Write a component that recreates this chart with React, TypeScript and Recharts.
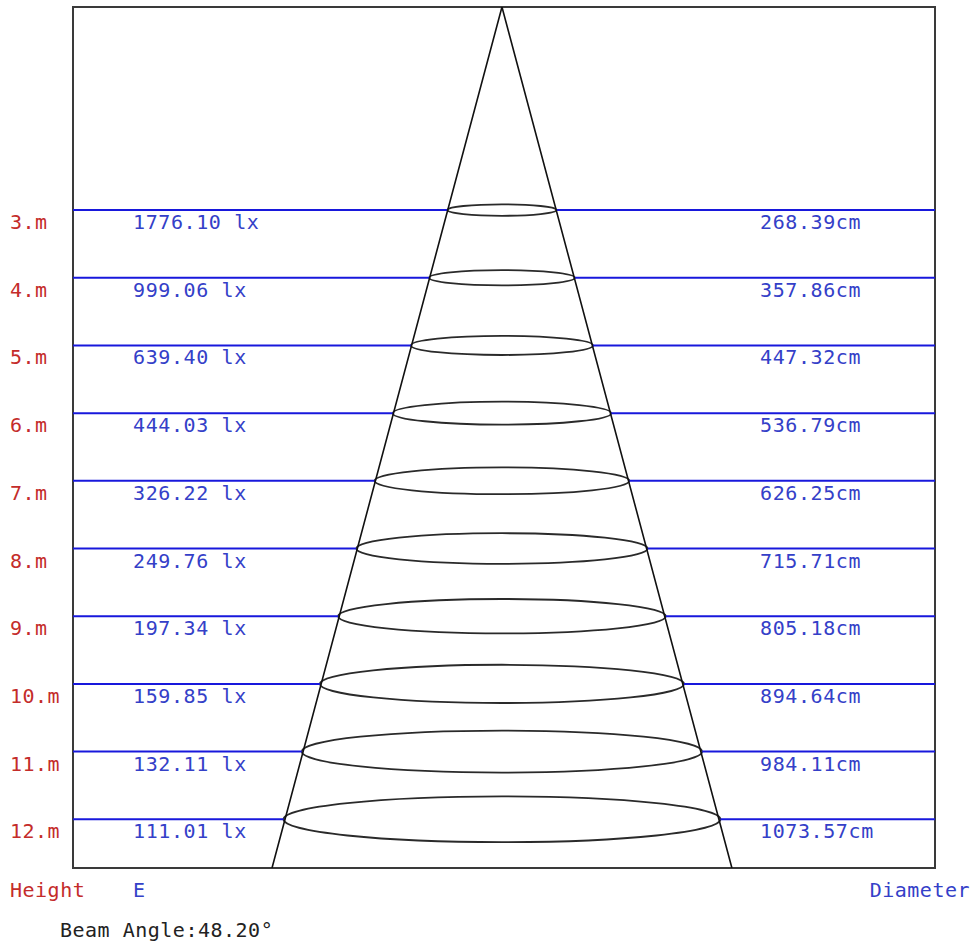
import React from 'react';
import { ComposedChart, XAxis, YAxis, Scatter, ReferenceLine, ReferenceArea } from 'recharts';

// mounting heights (m) and the values printed on each row
const heights = [3, 4, 5, 6, 7, 8, 9, 10, 11, 12];
const illuminance = [1776.1, 999.06, 639.4, 444.03, 326.22, 249.76, 197.34, 159.85, 132.11, 111.01];
const diameters = [268.39, 357.86, 447.32, 536.79, 626.25, 715.71, 805.18, 894.64, 984.11, 1073.57];

// cone outline: bottom-left, apex, bottom-right
const coneX = [-565, 0, 565];
const coneH = [12.72, 0, 12.72];

const beamAngle = 48.2;

const X_DOMAIN = [-1054, 1064];
const Y_DOMAIN = [0, 12.72];

const RED = '#c42c2a';
const BLUE = '#3440c8';
const LINE_BLUE = '#1818dc';
const FONT = '"DejaVu Sans Mono", "Liberation Mono", monospace';

const cone = coneX.map((x, i) => ({ x, h: coneH[i] }));

const RowTick = (props: any) => {
  const { y, payload } = props;
  const i = heights.indexOf(payload.value);
  if (i < 0) return null;
  const ty = y + 19;
  return (
    <g fontFamily={FONT} fontSize={20}>
      <text x={10} y={ty} fill={RED} letterSpacing={0.5}>{`${payload.value}.m`}</text>
      <text x={133} y={ty} fill={BLUE} letterSpacing={0.6}>{`${illuminance[i].toFixed(2)} lx`}</text>
      <text x={760} y={ty} fill={BLUE} letterSpacing={0.6}>{`${diameters[i].toFixed(2)}cm`}</text>
    </g>
  );
};

const ellipseShape = (props: any) => {
  const { x, y, width, height } = props;
  const rx = width / 2;
  return (
    <ellipse
      cx={x + rx}
      cy={y + height / 2}
      rx={rx}
      ry={rx * 0.105}
      fill="none"
      stroke="#2a2a2a"
      strokeWidth={1.8}
    />
  );
};

export default function App() {
  return (
    <div style={{ position: 'absolute', left: 0, top: 0, width: 972, height: 945, background: '#fff' }}>
      <ComposedChart width={972} height={945} margin={{ top: 7, right: 37, bottom: 77, left: 0 }}>
        <XAxis type="number" dataKey="x" domain={X_DOMAIN} allowDataOverflow hide />
        <YAxis
          type="number"
          dataKey="h"
          domain={Y_DOMAIN}
          allowDataOverflow
          reversed
          ticks={heights}
          interval={0}
          width={73}
          axisLine={false}
          tickLine={false}
          tick={<RowTick />}
        />
        <ReferenceArea
          x1={X_DOMAIN[0]}
          x2={X_DOMAIN[1]}
          y1={Y_DOMAIN[0]}
          y2={Y_DOMAIN[1]}
          fill="none"
          fillOpacity={0}
          stroke="#3a3a3a"
          strokeWidth={2}
        />
        {heights.map((h, i) => (
          <ReferenceLine
            key={`l${h}`}
            segment={[{ x: X_DOMAIN[0], y: h }, { x: -diameters[i] / 2, y: h }]}
            stroke={LINE_BLUE}
            strokeWidth={2}
          />
        ))}
        {heights.map((h, i) => (
          <ReferenceLine
            key={`r${h}`}
            segment={[{ x: diameters[i] / 2, y: h }, { x: X_DOMAIN[1], y: h }]}
            stroke={LINE_BLUE}
            strokeWidth={2}
          />
        ))}
        {heights.map((h, i) => (
          <ReferenceArea
            key={`e${h}`}
            x1={-diameters[i] / 2}
            x2={diameters[i] / 2}
            y1={h - 0.01}
            y2={h + 0.01}
            shape={ellipseShape}
          />
        ))}
        <Scatter
          data={cone}
          dataKey="h"
          line={{ stroke: '#111', strokeWidth: 1.6 }}
          shape={() => <g />}
          isAnimationActive={false}
        />
      </ComposedChart>
      <svg
        width={972}
        height={945}
        style={{ position: 'absolute', left: 0, top: 0, pointerEvents: 'none' }}
        fontFamily={FONT}
        fontSize={20}
      >
        <text x={10} y={897} fill={RED} letterSpacing={0.5}>Height</text>
        <text x={133} y={897} fill={BLUE}>E</text>
        <text x={970} y={897} fill={BLUE} textAnchor="end" letterSpacing={0.5}>Diameter</text>
        <text x={60} y={937} fill="#222" letterSpacing={0.5}>{`Beam Angle:${beamAngle.toFixed(2)}°`}</text>
      </svg>
    </div>
  );
}
